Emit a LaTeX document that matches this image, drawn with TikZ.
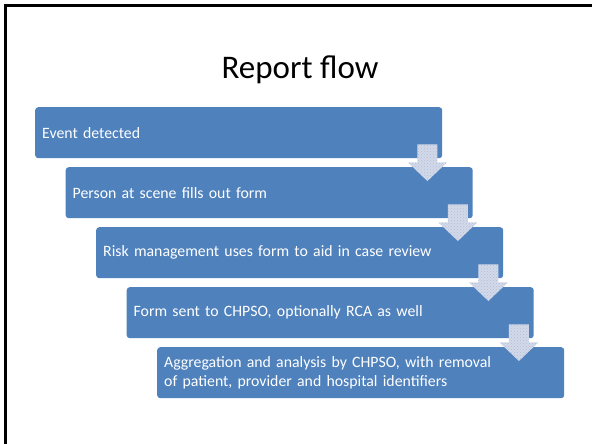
\documentclass[tikz,border=0pt]{standalone}
\usepackage{fontspec}
\setmainfont{Carlito}
\usepackage{tikz}
\usetikzlibrary{calc,patterns}
\definecolor{boxblue}{RGB}{79,129,189}
\definecolor{arrowfill}{RGB}{210,217,233}
\definecolor{arrowdot}{RGB}{178,190,214}
\tikzstyle{st}=[anchor=north west,fill=boxblue,rounded corners=3pt,text=white,font=\fontsize{15.8}{18.5}\selectfont,minimum height=51pt,text width=393pt,inner xsep=7pt,align=left]
\tikzstyle{down}=[fill=arrowfill,postaction={pattern=crosshatch dots,pattern color=arrowdot}]

\begin{document}
\begin{tikzpicture}[x=1pt,y=-1pt]
    \useasboundingbox (0,0) rectangle (592,444);
    \draw[line width=2.5pt] (5.5,444) -- (5.5,5.5) -- (592,5.5);
        \node[anchor=base,font=\fontsize{33}{40}\selectfont] (T) at (300,78.5) {Report flow}
        ;
        \node[st] (A) at (35,107) {Event detected}
        ;
        \node[st] (B) at (65.5,167) {Person at scene fills out form}
        ;
        \node[st] (C) at (96,227) {Risk management uses form to aid in case review}
        ;
        \node[st] (D) at (126.5,287) {Form sent to CHPSO, optionally RCA as well}
        ;
        \node[st] (E) at (157,347) {Aggregation and analysis by CHPSO, with removal\\of patient, provider and hospital identifiers}
        ;
        % block arrows, drawn over the boxes
        \fill[down] ($(A.south east)+(-25,-14)$) -- ($(A.south east)+(-5,-14)$) -- ($(A.south east)+(-5,4)$)
            -- ($(A.south east)+(4.5,4)$) -- ($(B.north east)+(-45.5,14)$) -- ($(A.south east)+(-34.5,4)$)
            -- ($(A.south east)+(-25,4)$) -- cycle;
        \fill[down] ($(B.south east)+(-25,-14)$) -- ($(B.south east)+(-5,-14)$) -- ($(B.south east)+(-5,4)$)
            -- ($(B.south east)+(4.5,4)$) -- ($(C.north east)+(-45.5,14)$) -- ($(B.south east)+(-34.5,4)$)
            -- ($(B.south east)+(-25,4)$) -- cycle;
        \fill[down] ($(C.south east)+(-25,-14)$) -- ($(C.south east)+(-5,-14)$) -- ($(C.south east)+(-5,4)$)
            -- ($(C.south east)+(4.5,4)$) -- ($(D.north east)+(-45.5,14)$) -- ($(C.south east)+(-34.5,4)$)
            -- ($(C.south east)+(-25,4)$) -- cycle;
        \fill[down] ($(D.south east)+(-25,-14)$) -- ($(D.south east)+(-5,-14)$) -- ($(D.south east)+(-5,4)$)
            -- ($(D.south east)+(4.5,4)$) -- ($(E.north east)+(-45.5,14)$) -- ($(D.south east)+(-34.5,4)$)
            -- ($(D.south east)+(-25,4)$) -- cycle;
    \end{tikzpicture}
\end{document}
